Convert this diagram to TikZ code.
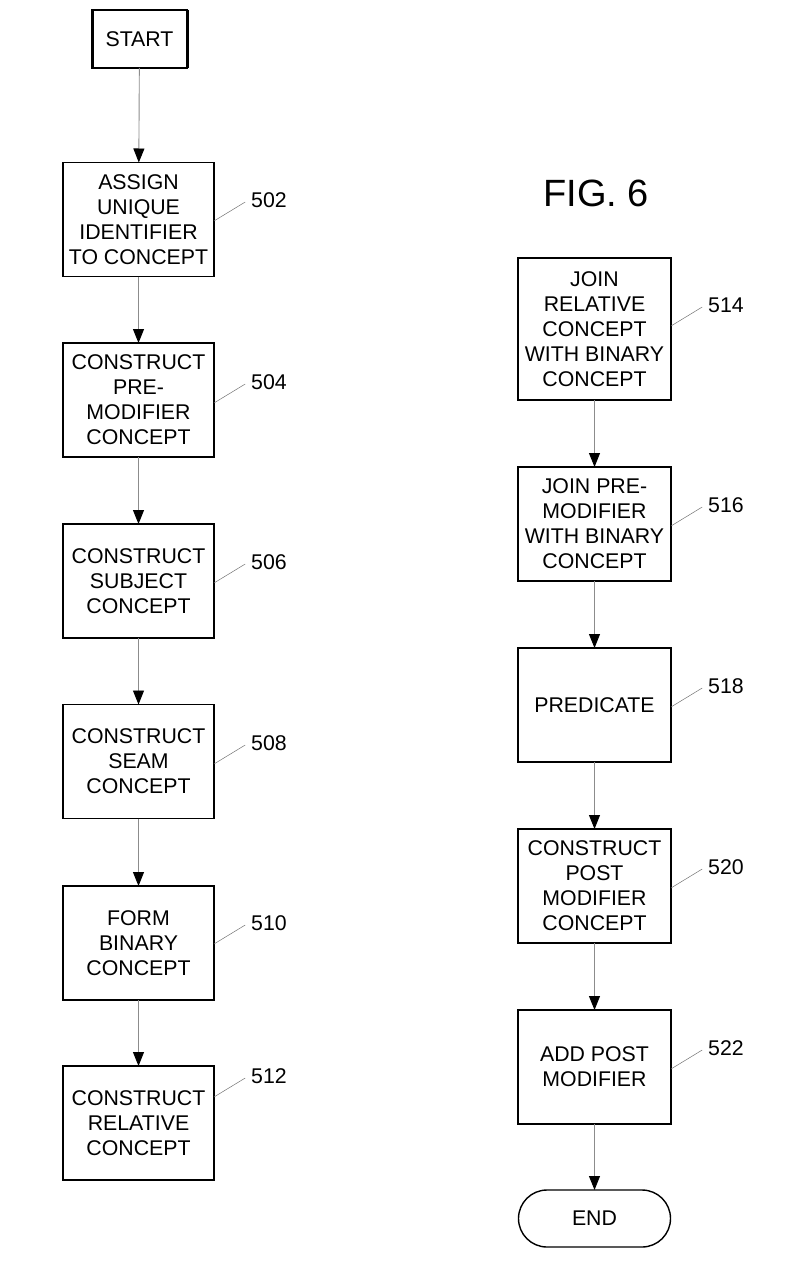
\documentclass[tikz,border=0pt]{standalone}
\usepackage{fontspec}
\setmainfont{Liberation Sans}
\usetikzlibrary{positioning,arrows.meta,calc,shapes}

\begin{document}
\begin{tikzpicture}
		[x=1pt,y=-1pt,
		every node/.style={inner sep=0pt,outer sep=0pt},
		stepbox/.style={draw,line width=1.4pt,minimum width=151pt,minimum height=114pt,align=center,font=\fontsize{21.3}{25}\selectfont},
		endbox/.style={draw,line width=1.4pt,rounded rectangle,minimum width=152pt,minimum height=57pt,font=\fontsize{21.3}{25}\selectfont},
		refnum/.style={font=\fontsize{21.3}{25}\selectfont},
		flow/.style={draw=black!45,line width=0.9pt,-{Triangle[length=14pt,width=11pt,fill=black,color=black]}},
		leader/.style={draw=black!55,line width=0.5pt}]
		\useasboundingbox (0,0) rectangle (805,1279);
		% left column
		\node[draw,line width=1.4pt,minimum width=95pt,minimum height=58pt,font=\fontsize{21.3}{25}\selectfont] (start) at (139.5,39) {START};
		\draw[line width=3pt] (start.north west) -- (start.south west) (start.north east) -- (start.south east);
		\node[stepbox] (b502) at (138.5,219.5) {ASSIGN\\UNIQUE\\IDENTIFIER\\TO CONCEPT};
		\node[stepbox] (b504) at (138.5,400) {CONSTRUCT\\PRE-\\MODIFIER\\CONCEPT};
		\node[stepbox] (b506) at (138.5,581) {CONSTRUCT\\SUBJECT\\CONCEPT};
		\node[stepbox] (b508) at (138.5,761.5) {CONSTRUCT\\SEAM\\CONCEPT};
		\node[stepbox] (b510) at (138.5,943) {FORM\\BINARY\\CONCEPT};
		\node[stepbox] (b512) at (138.5,1123) {CONSTRUCT\\RELATIVE\\CONCEPT};
		% right column
		\node[font=\fontsize{38}{44}\selectfont] (fig) at (596,193) {FIG. 6};
		\node[stepbox,minimum width=153pt,minimum height=142pt] (b514) at (594.5,329) {JOIN\\RELATIVE\\CONCEPT\\WITH BINARY\\CONCEPT};
		\node[stepbox,minimum width=153pt] (b516) at (594.5,524) {JOIN PRE-\\MODIFIER\\WITH BINARY\\CONCEPT};
		\node[stepbox,minimum width=153pt] (b518) at (594.5,705) {PREDICATE};
		\node[stepbox,minimum width=153pt] (b520) at (594.5,886) {CONSTRUCT\\POST\\MODIFIER\\CONCEPT};
		\node[stepbox,minimum width=153pt] (b522) at (594.5,1067) {ADD POST\\MODIFIER};
		\node[endbox] (end) at (594.5,1218.5) {END};
		% arrows
		\draw[flow] (start) -- (b502);
		\draw[flow] (b502) -- (b504);
		\draw[flow] (b504) -- (b506);
		\draw[flow] (b506) -- (b508);
		\draw[flow] (b508) -- (b510);
		\draw[flow] (b510) -- (b512);
		\draw[flow] (b514) -- (b516);
		\draw[flow] (b516) -- (b518);
		\draw[flow] (b518) -- (b520);
		\draw[flow] (b520) -- (b522);
		\draw[flow] (b522) -- (end);
		% reference numerals
		\foreach \bx/\num/\lx/\ly in {b502/502/269/200,b504/504/269/382,b506/506/269/562,b508/508/269/743,b510/510/269/923,b512/512/269/1076,
			b514/514/726/305,b516/516/726/505,b518/518/726/686,b520/520/726/867,b522/522/726/1048}{
			\node[refnum] (l\num) at (\lx,\ly) {\num};
			\draw[leader] (\bx.east |- 0,{\ly+21}) -- ([xshift=-6pt,yshift=-2pt]l\num.west);
		}
\end{tikzpicture}
\end{document}
